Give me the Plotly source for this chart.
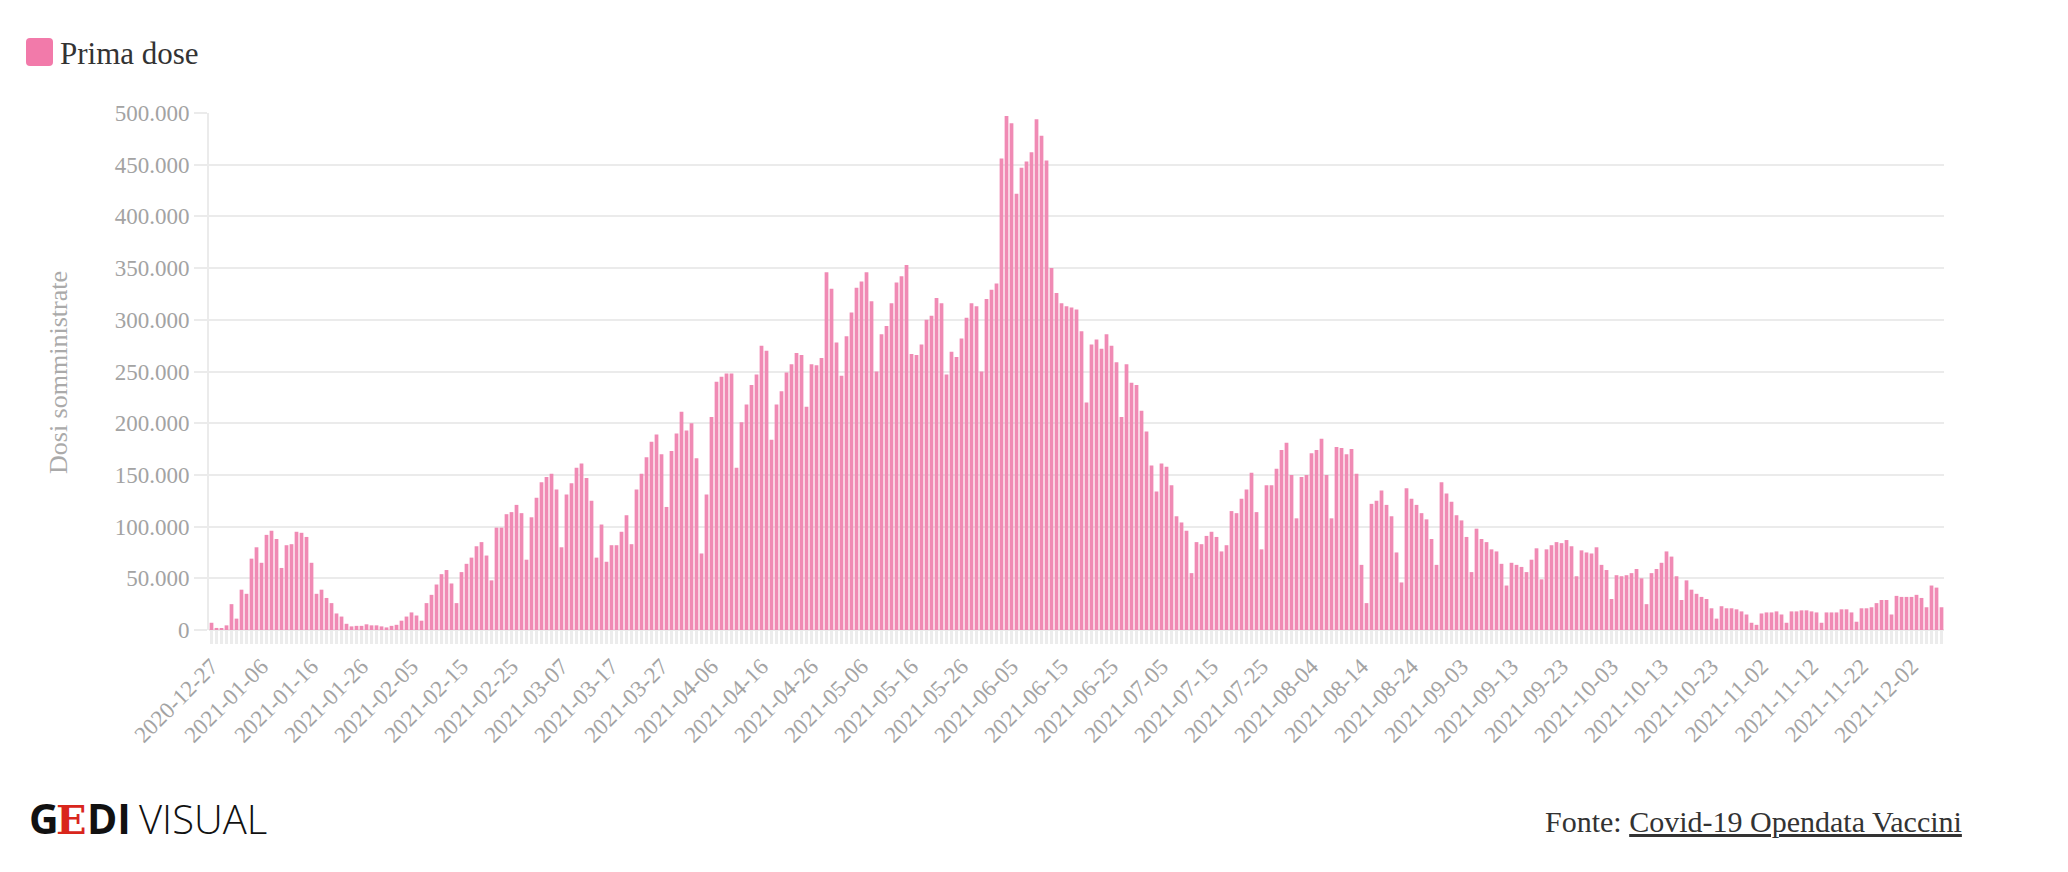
import plotly.graph_objects as go
import pandas as pd

# ---------------- data ----------------
start_date = "2020-12-27"

dec_2020 = [7000, 2000, 1500, 4500, 25000]
jan_2021 = [11000, 39000, 35000, 69000, 80000, 65000, 92000, 96000, 88000, 60000,
            82000, 83000, 95000, 94000, 90000, 65000, 35000, 39000, 31000, 26000,
            16000, 13000, 6000, 3500, 4000, 4000, 5500, 4500, 4500, 3500, 2500]
feb_2021 = [4000, 5000, 9000, 13000, 17000, 14000, 9000, 26000, 34000, 44000,
            54000, 58000, 45000, 26000, 56000, 64000, 70000, 81000, 85000, 72000,
            48000, 99000, 99000, 112000, 114000, 121000, 113000, 68000]
mar_2021 = [109000, 128000, 143000, 148000, 151000, 136000, 80000, 131000, 142000, 157000,
            161000, 147000, 125000, 70000, 102000, 66000, 82000, 82000, 95000, 111000,
            83000, 136000, 151000, 167000, 182000, 189000, 170000, 119000, 173000, 190000,
            211000]
apr_2021 = [193000, 200000, 166000, 74000, 131000, 206000, 240000, 245000, 248000, 248000,
            157000, 201000, 218000, 237000, 247000, 275000, 270000, 184000, 218000, 231000,
            249000, 257000, 268000, 266000, 216000, 257000, 256000, 263000, 346000, 330000]
may_2021 = [278000, 246000, 284000, 307000, 331000, 337000, 346000, 318000, 250000, 286000,
            294000, 316000, 336000, 342000, 353000, 267000, 266000, 276000, 300000, 304000,
            321000, 316000, 247000, 269000, 264000, 282000, 302000, 316000, 313000, 250000,
            320000]
jun_2021 = [329000, 335000, 456000, 497000, 490000, 422000, 447000, 453000, 462000, 494000,
            478000, 454000, 350000, 326000, 316000, 313000, 312000, 310000, 289000, 220000,
            276000, 281000, 272000, 286000, 275000, 259000, 206000, 257000, 239000, 237000]
jul_2021 = [212000, 192000, 159000, 134000, 161000, 158000, 140000, 110000, 104000, 96000,
            55000, 85000, 83000, 91000, 95000, 90000, 76000, 82000, 115000, 113000,
            127000, 136000, 152000, 114000, 78000, 140000, 140000, 156000, 174000, 181000,
            150000]
aug_2021 = [108000, 148000, 150000, 171000, 174000, 185000, 150000, 108000, 177000, 176000,
            170000, 175000, 151000, 63000, 26000, 122000, 125000, 135000, 121000, 110000,
            75000, 46000, 137000, 127000, 121000, 113000, 107000, 88000, 63000, 143000,
            132000]
sep_2021 = [124000, 111000, 106000, 90000, 56000, 98000, 88000, 85000, 78000, 76000,
            64000, 43000, 65000, 63000, 61000, 56000, 68000, 79000, 49000, 78000,
            82000, 85000, 84000, 87000, 81000, 52000, 77000, 75000, 74000, 80000]
oct_2021 = [63000, 58000, 30000, 53000, 52000, 53000, 55000, 59000, 50000, 25000,
            55000, 59000, 65000, 76000, 71000, 52000, 29000, 48000, 39000, 35000,
            32000, 30000, 21000, 11000, 23000, 21000, 21000, 20000, 18000, 15000,
            7000]
nov_2021 = [5000, 16000, 17000, 17000, 18000, 15000, 7000, 18000, 18000, 19000,
            19000, 18000, 17000, 7000, 17000, 17000, 17000, 20000, 20000, 17000,
            8000, 21000, 21000, 22000, 26000, 29000, 29000, 15000, 33000, 32000]
dec_2021 = [32000, 32000, 34000, 31000, 22000, 43000, 41000, 22000]

prima_dose = (dec_2020 + jan_2021 + feb_2021 + mar_2021 + apr_2021 + may_2021 + jun_2021
              + jul_2021 + aug_2021 + sep_2021 + oct_2021 + nov_2021 + dec_2021)
dates = pd.date_range(start_date, periods=len(prima_dose), freq="D")

y_tick_values = [0, 50000, 100000, 150000, 200000, 250000, 300000, 350000, 400000, 450000, 500000]

series_name = "Prima dose"
y_title = "Dosi somministrate"
source_label = "Fonte: "
source_link = "Covid-19 Opendata Vaccini"

# ---------------- layout geometry (pixels) ----------------
W, H = 2068, 872
L, R, T, B = 209, 124, 113, 242
PW, PH = W - L - R, H - T - B

def px(x, y):
    return (x - L) / PW, (H - B - y) / PH

BAR = "#f08ab4"
GRID = "#ebebeb"
TICKC = "#a3a3a3"
SERIF = "Liberation Serif"

fig = go.Figure()
fig.add_trace(go.Bar(x=dates, y=prima_dose, name=series_name,
                     marker=dict(color=BAR, line=dict(width=0)),
                     showlegend=False))

day_ms = 86400000
fig.update_layout(
    width=W, height=H,
    margin=dict(l=L, r=R, t=T, b=B, pad=0),
    paper_bgcolor="white", plot_bgcolor="white",
    bargap=0.25,
    separators=",.",
    font=dict(family=SERIF, color=TICKC),
    xaxis=dict(
        type="date",
        range=[dates[0] - pd.Timedelta(hours=12), dates[-1] + pd.Timedelta(hours=12)],
        tick0=start_date, dtick=10 * day_ms, tickformat="%Y-%m-%d",
        tickangle=-45, tickfont=dict(family=SERIF, size=23, color=TICKC),
        ticks="outside", ticklen=13, tickwidth=3, tickcolor="#ececec",
        minor=dict(ticks="outside", ticklen=13, tickwidth=3, tickcolor="#ececec",
                   dtick=day_ms, tick0=start_date, showgrid=False),
        showgrid=False, showline=False, zeroline=False,
    ),
    yaxis=dict(
        range=[0, 500000], tickvals=y_tick_values, tickformat=",d",
        tickfont=dict(family=SERIF, size=23, color=TICKC),
        ticks="outside", ticklen=13, tickwidth=2, tickcolor=GRID,
        showgrid=True, gridcolor=GRID, gridwidth=2,
        showline=True, linecolor=GRID, linewidth=2,
        zeroline=True, zerolinecolor=GRID, zerolinewidth=2,
    ),
)

# legend (drawn manually)
x0, y0 = px(26, 38)
x1, y1 = px(53, 66)
rx, ry = 4 / PW, 4 / PH
path = (f"M {x0+rx},{y0} L {x1-rx},{y0} Q {x1},{y0} {x1},{y0-ry} "
        f"L {x1},{y1+ry} Q {x1},{y1} {x1-rx},{y1} L {x0+rx},{y1} Q {x0},{y1} {x0},{y1+ry} "
        f"L {x0},{y0-ry} Q {x0},{y0} {x0+rx},{y0} Z")
fig.add_shape(type="path", path=path, xref="paper", yref="paper",
              fillcolor="#f27aaa", line=dict(width=0))
lx, ly = px(58, 53)
fig.add_annotation(text=series_name, x=lx, y=ly, xref="paper", yref="paper",
                   xanchor="left", yanchor="middle", showarrow=False,
                   font=dict(family=SERIF, size=31, color="#333333"))

# y-axis title
tx, ty = px(58, 373)
fig.add_annotation(text=y_title, x=tx, y=ty, xref="paper", yref="paper",
                   textangle=-90, xanchor="center", yanchor="middle", showarrow=False,
                   font=dict(family=SERIF, size=26, color="#aaaaaa"))

# logo
gx, gy = px(27, 818)
fig.add_annotation(text="<b>G</b>", x=gx, y=gy, xref="paper", yref="paper",
                   xanchor="left", yanchor="middle", showarrow=False,
                   font=dict(family="Open Sans", size=41, color="#111111"))
ecx, ecy = px(71, 819)
fig.add_annotation(text="<b>E</b>", x=ecx, y=ecy, xref="paper", yref="paper",
                   xanchor="center", yanchor="middle", showarrow=False,
                   font=dict(family="DejaVu Serif", size=40, color="#d9261c"))
dx_, dy_ = px(85, 818)
fig.add_annotation(text="<b>DI</b>", x=dx_, y=dy_, xref="paper", yref="paper",
                   xanchor="left", yanchor="middle", showarrow=False,
                   font=dict(family="Open Sans", size=41, color="#111111"))
vx, vy = px(137, 818)
fig.add_annotation(text="VISUAL", x=vx, y=vy, xref="paper", yref="paper",
                   xanchor="left", yanchor="middle", showarrow=False,
                   font=dict(family="Open Sans", size=40, color="#111111", weight=300))

# source
sx, sy = px(1964, 821)
fig.add_annotation(text=source_label + "<u>" + source_link + "</u>", x=sx, y=sy,
                   xref="paper", yref="paper", xanchor="right", yanchor="middle",
                   showarrow=False, font=dict(family=SERIF, size=30, color="#333333"))

fig.write_html("out.html", config={"displayModeBar": False},
               post_script="document.body.style.margin='0';document.body.style.overflow='hidden';")
